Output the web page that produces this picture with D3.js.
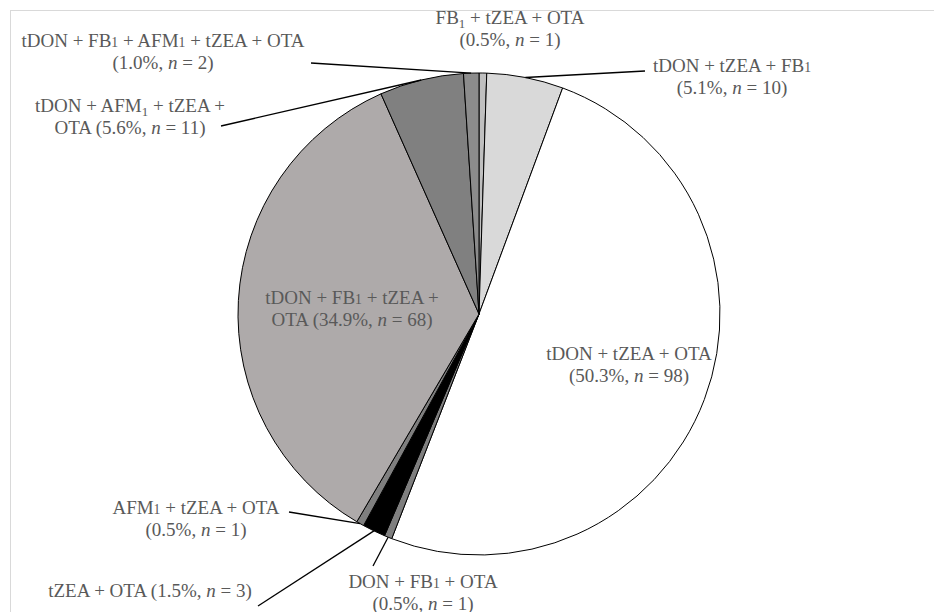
<!DOCTYPE html>
<html>
<head>
<meta charset="utf-8">
<script src="https://cdn.jsdelivr.net/npm/d3@7/dist/d3.min.js"></script>
<style>
  html, body { margin: 0; padding: 0; background: #ffffff; }
  svg { display: block; }
  text { font-family: "Liberation Serif", "Times New Roman", serif; }
</style>
</head>
<body>
<svg id="chart" width="934" height="612"></svg>
<script>
// Mycotoxin co-occurrence combinations (clockwise from 12 o'clock)
const categories = [
  "FB1 + tZEA + OTA",
  "tDON + tZEA + FB1",
  "tDON + tZEA + OTA",
  "DON + FB1 + OTA",
  "tZEA + OTA",
  "AFM1 + tZEA + OTA",
  "tDON + FB1 + tZEA + OTA",
  "tDON + AFM1 + tZEA + OTA",
  "tDON + FB1 + AFM1 + tZEA + OTA"
];
const counts = [1, 10, 98, 1, 3, 1, 68, 11, 2];

// Label lines; "_1" = lowered subscript one, "~1" = small inline one,
// "{P}" and "{N}" are replaced by the share and the count.
const labelLines = [
  ["FB_1 + tZEA + OTA", "({P}, *n* = {N})"],
  ["tDON + tZEA + FB~1", "({P}, *n* = {N})"],
  ["tDON + tZEA + OTA", "({P}, *n* = {N})"],
  ["DON + FB~1 + OTA", "({P}, *n* = {N})"],
  ["tZEA + OTA ({P}, *n* = {N})"],
  ["AFM~1 + tZEA + OTA", "({P}, *n* = {N})"],
  ["tDON + FB~1 + tZEA +", "OTA ({P}, *n* = {N})"],
  ["tDON + AFM_1 + tZEA +", "OTA ({P}, *n* = {N})"],
  ["tDON + FB~1 + AFM~1 + tZEA + OTA", "({P}, *n* = {N})"]
];

const sliceFills = ["#bfbfbf", "#d9d9d9", "#ffffff", "#7f7f7f", "#000000",
                    "#7f7f7f", "#aeaaaa", "#808080", "#8c8c8c"];

// label centre (x, first-line y) and where each leader line leaves the label
const labelPlace = [
  { x: 510, y: 17, leader: null },
  { x: 732, y: 65, leader: [645, 71] },
  { x: 629, y: 353, leader: null },
  { x: 423, y: 581, leader: [373, 566] },
  { x: 150, y: 590, leader: [258, 606] },
  { x: 196, y: 507, leader: [289, 512] },
  { x: 352, y: 297, leader: null },
  { x: 130, y: 105, leader: [221, 126] },
  { x: 163, y: 40, leader: [311, 63] }
];

const W = 934, H = 612;
const cx = 479, cy = 314, R = 241;
const fontSize = 19, lineGap = 22;
const textColor = "#595959";

const svg = d3.select("#chart");

// light frame of the chart area
svg.append("line").attr("x1", 10).attr("y1", 10.5).attr("x2", W).attr("y2", 10.5)
  .attr("stroke", "#d9d9d9").attr("stroke-width", 1);
svg.append("line").attr("x1", 10.5).attr("y1", 10).attr("x2", 10.5).attr("y2", H)
  .attr("stroke", "#d9d9d9").attr("stroke-width", 1);

const total = d3.sum(counts);
const data = categories.map((c, i) => ({ name: c, n: counts[i], i }));

const pie = d3.pie().value(d => d.n).sort(null).startAngle(0).endAngle(2 * Math.PI);
const arcs = pie(data);
const arc = d3.arc().innerRadius(0).outerRadius(R);

const g = svg.append("g").attr("transform", `translate(${cx},${cy})`);
g.selectAll("path.slice")
  .data(arcs)
  .join("path")
  .attr("class", "slice")
  .attr("d", arc)
  .attr("fill", d => sliceFills[d.data.i])
  .attr("stroke", "#000000")
  .attr("stroke-width", 1)
  .attr("stroke-linejoin", "round");

// leader lines: from the label to the middle of the slice's outer edge
arcs.forEach(a => {
  const p = labelPlace[a.data.i];
  if (!p.leader) return;
  const mid = (a.startAngle + a.endAngle) / 2;
  const ex = cx + R * Math.sin(mid);
  const ey = cy - R * Math.cos(mid);
  svg.append("line")
    .attr("x1", p.leader[0]).attr("y1", p.leader[1])
    .attr("x2", ex).attr("y2", ey)
    .attr("stroke", "#000000").attr("stroke-width", 1.3);
});

// labels
function addLine(textSel, str) {
  // split into plain runs, italic runs and the two kinds of "1"
  const re = /(\*[^*]+\*|_1|~1)/g;
  const parts = str.split(re).filter(s => s.length);
  let lowered = false;
  parts.forEach(s => {
    let ts;
    if (s.startsWith("*")) {
      ts = textSel.append("tspan").attr("font-style", "italic").text(s.slice(1, -1));
    } else if (s === "_1") {
      ts = textSel.append("tspan").attr("font-size", fontSize * 0.68).text("1");
      ts.attr("dy", 4);
      lowered = true;
      return;
    } else if (s === "~1") {
      ts = textSel.append("tspan").attr("font-size", fontSize * 0.72).text("1");
    } else {
      ts = textSel.append("tspan").text(s);
    }
    if (lowered) { ts.attr("dy", -4); lowered = false; }
  });
}

arcs.forEach(a => {
  const i = a.data.i;
  const pct = (a.data.n / total * 100).toFixed(1) + "%";
  const p = labelPlace[i];
  labelLines[i].forEach((ln, k) => {
    const s = ln.replace("{P}", pct).replace("{N}", a.data.n);
    const t = svg.append("text")
      .attr("x", p.x)
      .attr("y", p.y + k * lineGap + fontSize * 0.35)
      .attr("text-anchor", "middle")
      .attr("font-size", fontSize)
      .attr("fill", textColor);
    addLine(t, s);
  });
});
</script>
</body>
</html>
